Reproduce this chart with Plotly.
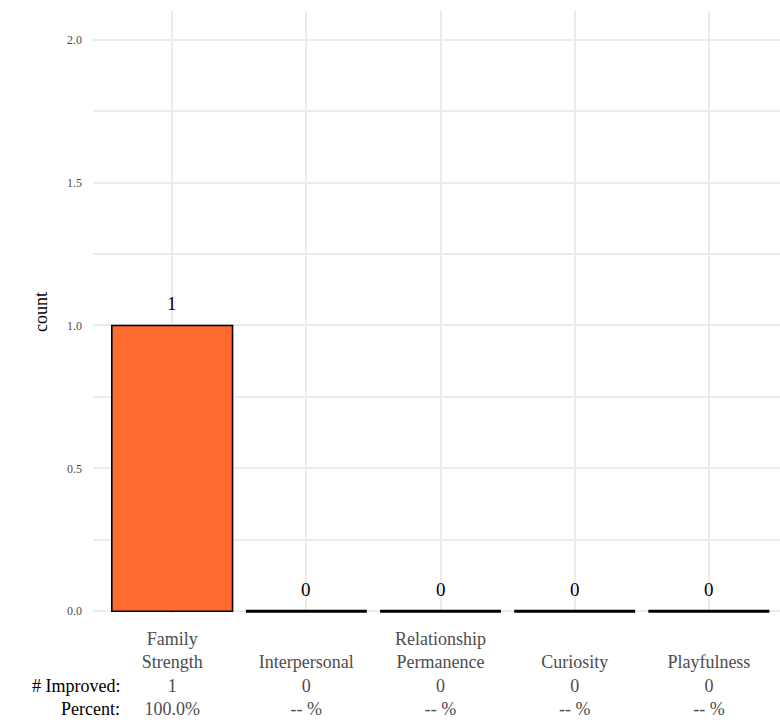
import plotly.graph_objects as go

categories = ["Family Strength", "Interpersonal", "Relationship Permanence", "Curiosity", "Playfulness"]
tick_names = ["Family<br>Strength", "&nbsp;<br>Interpersonal", "Relationship<br>Permanence", "&nbsp;<br>Curiosity", "&nbsp;<br>Playfulness"]
counts = [1, 0, 0, 0, 0]
percent_labels = ["100.0%", "-- %", "-- %", "-- %", "-- %"]
y_ticks = [0.0, 0.5, 1.0, 1.5, 2.0]

FONT = "Liberation Serif"
BAR_W = 0.9

xs = list(range(len(categories)))
ticktext = [f"{n}<br>{c}<br>{p}" for n, c, p in zip(tick_names, counts, percent_labels)]

fig = go.Figure()
fig.add_trace(go.Bar(
    x=xs, y=counts, width=BAR_W,
    marker=dict(color="#FF6A2F", line=dict(color="black", width=1.6)),
    showlegend=False, hoverinfo="skip",
))
# zero-height bars drawn as their outline
for x, c in zip(xs, counts):
    if c == 0:
        fig.add_trace(go.Scatter(
            x=[x - BAR_W / 2, x + BAR_W / 2], y=[c, c], mode="lines",
            line=dict(color="black", width=3), showlegend=False, hoverinfo="skip",
            cliponaxis=False,
        ))

for x, c in zip(xs, counts):
    fig.add_annotation(x=x, y=c, text=str(c), showarrow=False, yshift=22,
                       font=dict(family=FONT, size=19, color="black"))

fig.add_annotation(xref="paper", yref="paper", x=0.0426, y=-0.1218, xanchor="right",
                   yanchor="middle", text="# Improved:", showarrow=False,
                   font=dict(family=FONT, size=18, color="black"))
fig.add_annotation(xref="paper", yref="paper", x=0.0426, y=-0.1594, xanchor="right",
                   yanchor="middle", text="Percent:", showarrow=False,
                   font=dict(family=FONT, size=18, color="black"))

fig.update_layout(
    width=780, height=723,
    margin=dict(l=93, r=0, t=11, b=110),
    plot_bgcolor="white", paper_bgcolor="white",
    font=dict(family=FONT),
    xaxis=dict(
        range=[-0.59, 4.53], tickmode="array", tickvals=xs, ticktext=ticktext,
        showgrid=True, gridcolor="#EBEBEB", gridwidth=1.5, zeroline=False,
        tickfont=dict(family=FONT, size=18, color="#4D4D4D"), ticks="", showline=False,
        automargin=False, ticklabelstandoff=13,
    ),
    yaxis=dict(
        range=[-0.006, 2.1], tickmode="array", tickvals=y_ticks,
        ticktext=[f"{v:.1f}" for v in y_ticks],
        showgrid=True, gridcolor="#EBEBEB", gridwidth=1.5, zeroline=False,
        minor=dict(dtick=0.25, tick0=0, showgrid=True, gridcolor="#EBEBEB", gridwidth=1.5),
        tickfont=dict(family=FONT, size=12, color="#4D4D4D"), ticks="", showline=False,
        automargin=False, ticklabelstandoff=10,
        title=dict(text="count", font=dict(family=FONT, size=18, color="black"), standoff=14),
    ),
)

fig.write_html("out.html", config={"displayModeBar": False},
               post_script="document.body.style.margin='0';")
